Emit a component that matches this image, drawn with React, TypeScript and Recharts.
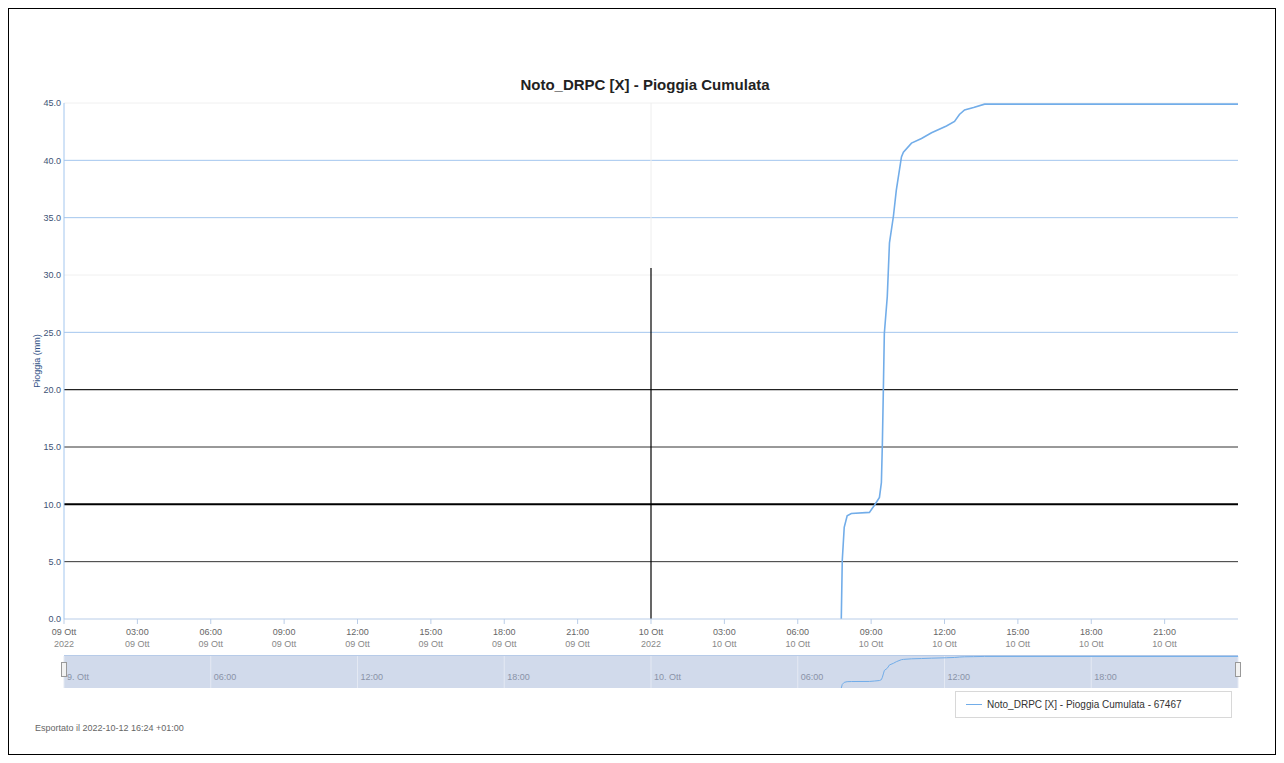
import { LineChart, Line, XAxis, YAxis, ReferenceLine, CartesianGrid } from 'recharts';

// hours counted from 09 Ott 2022 00:00
const hours = [
  31.78, 31.82, 31.9, 32.02, 32.19, 32.93, 33.13, 33.34, 33.42, 33.46, 33.5, 33.54, 33.66, 33.75,
  33.91, 34.03, 34.24, 34.32, 34.65, 35.06, 35.47, 36.08, 36.41, 36.61, 36.82, 37.19, 37.64, 48.0,
];
// cumulated rain, mm
const rain = [
  0.0, 5.1, 8.0, 9.0, 9.2, 9.3, 9.9, 10.6, 11.9, 15.3, 20.0, 24.9, 28.1, 32.8,
  35.1, 37.4, 40.3, 40.7, 41.5, 41.9, 42.4, 43.0, 43.4, 44.0, 44.4, 44.6, 44.9, 44.9,
];

const xTicks = [0, 3, 6, 9, 12, 15, 18, 21, 24, 27, 30, 33, 36, 39, 42, 45];
const yTicks = [0, 5, 10, 15, 20, 25, 30, 35, 40, 45];
const navTicks = [0, 6, 12, 18, 24, 30, 36, 42];
const navLabels = ['9. Ott', '06:00', '12:00', '18:00', '10. Ott', '06:00', '12:00', '18:00'];
const firstDay = 9;
const monthLabel = 'Ott';
const yearLabel = '2022';

const title = 'Noto_DRPC [X] - Pioggia Cumulata';
const seriesName = 'Noto_DRPC [X] - Pioggia Cumulata - 67467';
const yTitle = 'Pioggia (mm)';
const footer = 'Esportato il 2022-10-12 16:24 +01:00';

const data = hours.map((h, i) => ({ h, mm: rain[i] }));

// odd look of the exported grid: some lines blue, some black
const gridLook: Record<number, { stroke: string; w: number }> = {
  5: { stroke: '#333', w: 1 },
  10: { stroke: '#000', w: 2 },
  15: { stroke: '#333', w: 1 },
  20: { stroke: '#222', w: 1.3 },
  25: { stroke: '#a3c6ee', w: 1 },
  30: { stroke: '#f0f0f0', w: 1 },
  35: { stroke: '#a3c6ee', w: 1 },
  40: { stroke: '#a3c6ee', w: 1 },
  45: { stroke: '#f0f0f0', w: 1 },
};

const FONT = '"Liberation Sans", Arial, sans-serif';
const pad = (n: number) => String(n).padStart(2, '0');

function XTick({ x, y, payload }: any) {
  const h = payload.value as number;
  const day = firstDay + Math.floor(h / 24);
  const hh = h % 24;
  const top = hh === 0 ? `${pad(day)} ${monthLabel}` : `${pad(hh)}:00`;
  const bottom = hh === 0 ? yearLabel : `${pad(day)} ${monthLabel}`;
  return (
    <g fontFamily={FONT} fontSize={9} fill="#666">
      <text x={x} y={y + 9} textAnchor="middle">{top}</text>
      <text x={x} y={y + 21} textAnchor="middle" fill="#888">{bottom}</text>
    </g>
  );
}

function NavTick({ x, y, index }: any) {
  return (
    <text x={x + 3} y={y - 8} fontFamily={FONT} fontSize={9} fill="#8a93a8">
      {navLabels[index]}
    </text>
  );
}

export default function App() {
  return (
    <div
      style={{
        position: 'relative',
        width: 1268,
        height: 747,
        border: '1px solid #000',
        boxSizing: 'border-box',
        background: '#fff',
        fontFamily: FONT,
      }}
    >
      <div style={{ position: 'absolute', left: -9, top: -9, width: 1284, height: 763 }}>
        <div
          style={{
            position: 'absolute',
            left: 0,
            width: 1290,
            top: 76,
            textAlign: 'center',
            fontSize: 15,
            fontWeight: 'bold',
            color: '#222',
          }}
        >
          {title}
        </div>

        <div style={{ position: 'absolute', left: 0, top: 0 }}>
          <LineChart
            width={1284}
            height={700}
            data={data}
            margin={{ top: 103, right: 46, bottom: 51, left: 14 }}
          >
            <XAxis
              dataKey="h"
              type="number"
              domain={[0, 48]}
              ticks={xTicks}
              height={30}
              tick={<XTick />}
              tickSize={5}
              tickMargin={2}
              interval={0}
              axisLine={{ stroke: '#b9cde8' }}
              tickLine={{ stroke: '#b9cde8' }}
            />
            <YAxis
              type="number"
              domain={[0, 45]}
              ticks={yTicks}
              width={50}
              tickFormatter={(v: number) => v.toFixed(1)}
              tick={{ fontSize: 9, fill: '#3d5275', fontFamily: FONT }}
              tickSize={0}
              tickMargin={3}
              axisLine={{ stroke: '#a3c6ee' }}
              label={{
                value: yTitle,
                angle: -90,
                position: 'insideLeft',
                offset: 23,
                style: { textAnchor: 'middle', fontSize: 9, fill: '#2f4f86', fontFamily: FONT },
              }}
            />
            {yTicks.filter((v) => v > 0).map((v) => (
              <ReferenceLine
                key={v}
                y={v}
                stroke={gridLook[v].stroke}
                strokeWidth={gridLook[v].w}
                ifOverflow="extendDomain"
              />
            ))}
            <ReferenceLine segment={[{ x: 24, y: 30.6 }, { x: 24, y: 45 }]} stroke="#eeeeee" />
            <ReferenceLine segment={[{ x: 24, y: 0 }, { x: 24, y: 30.6 }]} stroke="#000" strokeWidth={1.2} />
            <Line
              type="linear"
              dataKey="mm"
              stroke="#72ade9"
              strokeWidth={1.6}
              dot={false}
              isAnimationActive={false}
            />
          </LineChart>
        </div>

        {/* navigator */}
        <div
          style={{
            position: 'absolute',
            left: 64,
            top: 655,
            width: 1174,
            height: 33,
            background: '#d1daeb',
            borderTop: '1px solid #b7cbe8',
            boxSizing: 'border-box',
          }}
        />
        <div style={{ position: 'absolute', left: 0, top: 650 }}>
          <LineChart
            width={1284}
            height={42}
            data={data}
            margin={{ top: 6, right: 46, bottom: 0, left: 64 }}
          >
            <CartesianGrid horizontal={false} stroke="#e4e9f3" />
            <XAxis
              dataKey="h"
              type="number"
              domain={[0, 48]}
              ticks={navTicks}
              height={4}
              tick={<NavTick />}
              tickSize={0}
              tickMargin={0}
              interval={0}
              axisLine={false}
              tickLine={false}
            />
            <YAxis type="number" domain={[0, 45.5]} hide />
            <Line
              type="linear"
              dataKey="mm"
              stroke="#72ade9"
              strokeWidth={1}
              dot={false}
              isAnimationActive={false}
            />
          </LineChart>
        </div>
        <div
          style={{
            position: 'absolute',
            left: 61,
            top: 662,
            width: 6,
            height: 15,
            background: '#f2f2f2',
            border: '1px solid #999',
            boxSizing: 'border-box',
          }}
        />
        <div
          style={{
            position: 'absolute',
            left: 1235,
            top: 662,
            width: 6,
            height: 15,
            background: '#f2f2f2',
            border: '1px solid #999',
            boxSizing: 'border-box',
          }}
        />

        {/* legend */}
        <div
          style={{
            position: 'absolute',
            left: 955,
            top: 691,
            width: 277,
            height: 27,
            border: '1px solid #d8d8d8',
            boxSizing: 'border-box',
            display: 'flex',
            alignItems: 'center',
            paddingLeft: 10,
            fontSize: 10,
            color: '#333',
          }}
        >
          <span style={{ display: 'inline-block', width: 16, height: 1.5, background: '#72ade9', marginRight: 5 }} />
          {seriesName}
        </div>

        <div style={{ position: 'absolute', left: 35, top: 723, fontSize: 9, color: '#666' }}>{footer}</div>
      </div>
    </div>
  );
}
